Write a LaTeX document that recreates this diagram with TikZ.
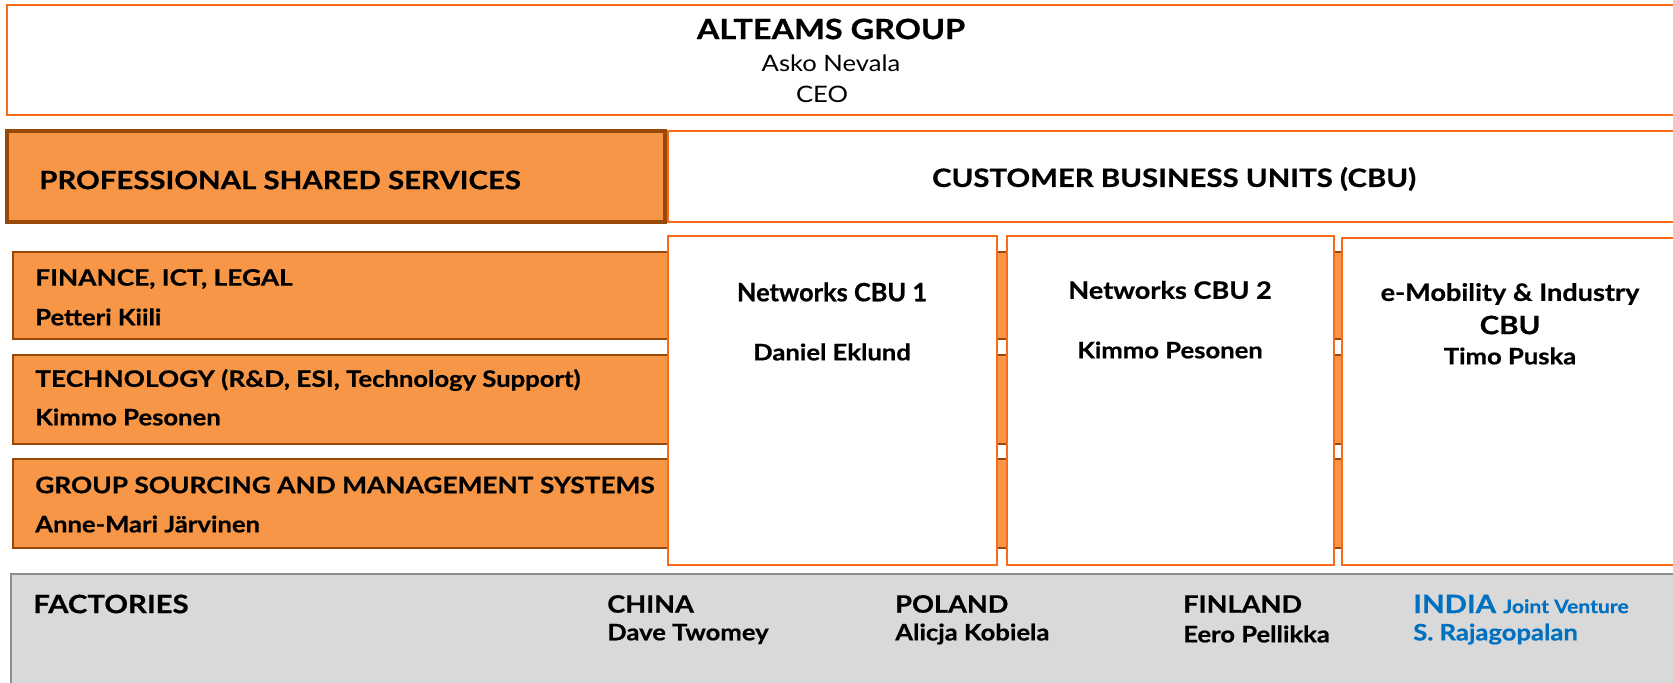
\documentclass[tikz,border=0pt]{standalone}
\usepackage{fontspec}
\setmainfont{Lato}
\newfontfamily\capf{Lato}[FakeStretch=1.16,BoldFeatures={FakeBold=0.6}]
\newfontfamily\mixf{Lato}[FakeStretch=1.13,BoldFeatures={FakeBold=0.6}]
\newfontfamily\plainf{Lato}[BoldFeatures={FakeBold=0.6}]
\definecolor{obord}{HTML}{FA6A1A}
\definecolor{ofill}{HTML}{F79646}
\definecolor{dbrown}{HTML}{984807}
\definecolor{gfill}{HTML}{D9D9D9}
\definecolor{gbord}{HTML}{8C8C8C}
\definecolor{jvblue}{HTML}{0070C0}
\newcommand{\ftitle}{\capf\fontsize{21}{24}\selectfont\bfseries}
\newcommand{\fbig}{\capf\fontsize{19}{22}\selectfont\bfseries}
\newcommand{\fcaps}{\capf\fontsize{17}{20}\selectfont\bfseries}
\newcommand{\fmid}{\mixf\fontsize{17}{20}\selectfont\bfseries}
\newcommand{\fmix}{\mixf\fontsize{18}{21}\selectfont\bfseries}
\newcommand{\fctry}{\mixf\fontsize{18}{21}\selectfont\bfseries}
\newcommand{\freg}{\mixf\fontsize{17}{20}\selectfont}
\newcommand{\fsmall}{\mixf\fontsize{14}{16}\selectfont\bfseries}
\begin{document}
\begin{tikzpicture}[x=0.75pt,y=-0.75pt,
  wbox/.style={draw=obord,line width=2pt,fill=white},
  pbox/.style={draw=dbrown,line width=2.6pt,fill=ofill},
  barbox/.style={draw=dbrown,line width=2.2pt,fill=ofill},
  fbox/.style={draw=gbord,line width=2.2pt,fill=gfill},
  lbl/.style={inner sep=0pt,anchor=west},
  clbl/.style={inner sep=0pt,anchor=center}]
\useasboundingbox (0,0) rectangle (1673,682);
\clip (0,0) rectangle (1673,682);
\fill[white] (0,0) rectangle (1673,682);
% boxes
\draw[wbox] (7,5) rectangle (1700,115);
\draw[pbox] (7,131) rectangle (665,222);
\draw[wbox] (668,131) rectangle (1700,222);
\draw[barbox] (13,252) rectangle (1700,339);
\draw[barbox] (13,355) rectangle (1700,444);
\draw[barbox] (13,459) rectangle (1700,548);
\draw[wbox] (668,236) rectangle (997,565);
\draw[wbox] (1007,236) rectangle (1334,565);
\draw[wbox] (1342,238) rectangle (1700,565);
\draw[fbox] (11,574) rectangle (1700,720);
% top
\node[clbl] (grp) at (831,29) {\ftitle ALTEAMS GROUP};
\node[clbl] (ceo) at (831,63) {\freg Asko Nevala};
\node[clbl] (ceot) at (822,94) {\freg CEO};
\node[lbl] (pss) at (39,180) {\fbig PROFESSIONAL SHARED SERVICES};
\node[clbl] (cbu) at (1174,179) {\fbig CUSTOMER BUSINESS UNITS (CBU)};
% bars
\node[lbl] (fin) at (35,279) {\fcaps FINANCE, ICT, LEGAL};
\node[lbl] (finp) at (35,317) {\fmid Petteri Kiili};
\node[lbl] (tec) at (35,380) {\fcaps TECHNOLOGY (R\&D, ESI, \mixf Technology Support\capf)};
\node[lbl] (tecp) at (35,417) {\fmid Kimmo Pesonen};
\node[lbl] (gsm) at (35,485) {\fcaps GROUP SOURCING AND MANAGEMENT SYSTEMS};
\node[lbl] (gsmp) at (35,524) {\fmid Anne-Mari Järvinen};
% CBUs
\node[clbl] (n1) at (832,292) {\plainf\bfseries\fontsize{19}{22}\selectfont Networks CBU 1};
\node[clbl] (n1p) at (832,352) {\fmid Daniel Eklund};
\node[clbl] (n2) at (1170,290) {\fmix Networks CBU 2};
\node[clbl] (n2p) at (1170,350) {\fmid Kimmo Pesonen};
\node[clbl] (em) at (1510,294) {\fmix e-Mobility \& Industry};
\node[clbl] (emc) at (1510,325) {\fbig CBU};
\node[clbl] (emp) at (1510,356) {\fmid Timo Puska};
% factories
\node[lbl] (fac) at (33,604) {\fbig FACTORIES};
\node[lbl] (chn) at (607,604) {\fctry CHINA};
\node[lbl] (chnp) at (607,634) {\fmid Dave Twomey};
\node[lbl] (pol) at (895,604) {\fctry POLAND};
\node[lbl] (polp) at (895,634) {\fmid Alicja Kobiela};
\node[lbl] (fi) at (1183,604) {\fctry FINLAND};
\node[lbl] (fip) at (1183,634) {\fmid Eero Pellikka};
\node[lbl,text=jvblue] (ind) at (1413,604) {\fbig INDIA {\fsmall Joint Venture}};
\node[lbl,text=jvblue] (indp) at (1413,634) {\fmid S. Rajagopalan};
\end{tikzpicture}
\end{document}
